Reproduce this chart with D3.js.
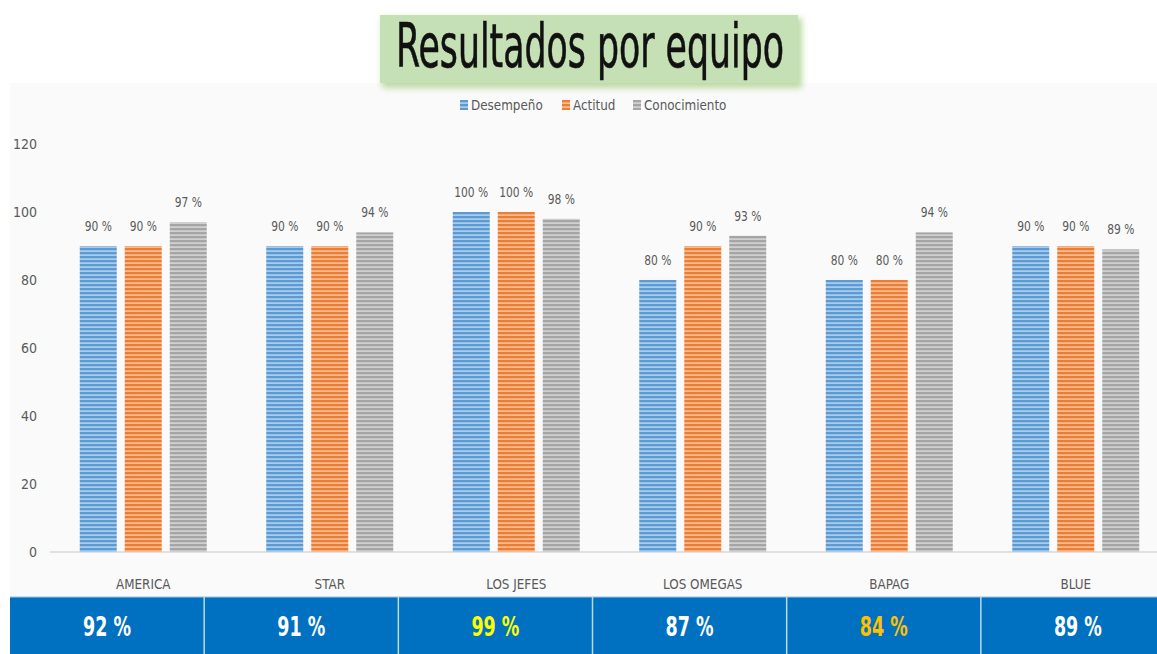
<!DOCTYPE html>
<html>
<head>
<meta charset="utf-8">
<script src="https://cdn.jsdelivr.net/npm/d3@7"></script>
<style>
  body { margin: 0; background: #ffffff; }
  svg { display: block; }
</style>
</head>
<body>
<svg id="chart" width="1157" height="654"></svg>
<script>
const categories = ['AMERICA', 'STAR', 'LOS JEFES', 'LOS OMEGAS', 'BAPAG', 'BLUE'];
const seriesNames = ['Desempeño', 'Actitud', 'Conocimiento'];
const desempeno = [90, 90, 100, 80, 80, 90];
const actitud = [90, 90, 100, 90, 80, 90];
const conocimiento = [97, 94, 98, 93, 94, 89];
const totals = [92, 91, 99, 87, 84, 89];
const yTicks = [0, 20, 40, 60, 80, 100, 120];

const COLORS = {
    series: ['#5b9bd5', '#ed7d31', '#a5a5a5'],
    stripe: ['#bdd7ee', '#f8cbad', '#dbdbdb'],
    text: '#595959',
    axis: '#d9d9d9',
    plotBg: '#fafafa',
    band: '#0070c0',
    titleBox: '#c5e0b4'
};
const totalColors = ['#ffffff', '#ffffff', '#ffff00', '#ffffff', '#ffc000', '#ffffff'];
const FONT = '"Liberation Sans Narrow", "DejaVu Sans Condensed", "Open Sans", sans-serif';

const seriesValues = [desempeno, actitud, conocimiento];
const rows = categories.map((c, i) => ({
    category: c,
    values: seriesNames.map((s, k) => ({ series: s, k: k, value: seriesValues[k][i] }))
}));

// squeeze text horizontally, the original uses a narrow font
function squeeze(sel, f) {
    sel.each(function () {
        const w = this.getComputedTextLength();
        d3.select(this).attr('textLength', w * f).attr('lengthAdjust', 'spacingAndGlyphs');
    });
}

const svg = d3.select('#chart');
const defs = svg.append('defs');

// striped fills like the excel pattern
seriesNames.forEach((s, k) => {
    const p = defs.append('pattern')
        .attr('id', 'stripe' + k)
        .attr('patternUnits', 'userSpaceOnUse')
        .attr('width', 8).attr('height', 4);
    p.append('rect').attr('width', 8).attr('height', 4).attr('fill', COLORS.series[k]);
    p.append('rect').attr('y', 2.4).attr('width', 8).attr('height', 1.4).attr('fill', COLORS.stripe[k]);
});

const glow = defs.append('filter').attr('id', 'glow')
    .attr('x', '-10%').attr('y', '-20%').attr('width', '120%').attr('height', '150%');
glow.append('feGaussianBlur').attr('stdDeviation', 3);

// plot background
svg.append('rect')
    .attr('x', 10).attr('y', 83).attr('width', 1147).attr('height', 514)
    .attr('fill', COLORS.plotBg);

// title box
svg.append('rect')
    .attr('x', 382).attr('y', 18).attr('width', 420).attr('height', 70)
    .attr('fill', '#a9d18e').attr('opacity', 0.8)
    .attr('filter', 'url(#glow)');
svg.append('rect')
    .attr('x', 380).attr('y', 15).attr('width', 418).attr('height', 68)
    .attr('fill', COLORS.titleBox);
svg.append('text')
    .attr('x', 590).attr('y', 67)
    .attr('text-anchor', 'middle')
    .attr('font-family', FONT)
    .attr('font-size', 60)
    .attr('fill', '#111111')
    .attr('stroke', '#111111').attr('stroke-width', 0.6)
    .attr('textLength', 388)
    .attr('lengthAdjust', 'spacingAndGlyphs')
    .text('Resultados por equipo');

// scales
const x0 = d3.scaleBand().domain(categories).range([50, 1169]);
const x1 = d3.scaleBand().domain(seriesNames).range([0, 127]).paddingInner(8 / 45);
const y = d3.scaleLinear().domain([0, 120]).range([552, 144]);

// y axis
const yAxis = svg.append('g')
    .attr('transform', 'translate(50,0)')
    .call(d3.axisLeft(y).tickValues(yTicks).tickSize(0).tickPadding(13));
yAxis.select('.domain').remove();
yAxis.selectAll('text')
    .attr('font-family', FONT).attr('font-size', 14).attr('fill', COLORS.text);

// baseline
svg.append('line')
    .attr('x1', 50).attr('x2', 1157)
    .attr('y1', y(0)).attr('y2', y(0))
    .attr('stroke', COLORS.axis).attr('stroke-width', 1.5);

// x axis labels
const xAxis = svg.append('g')
    .attr('transform', 'translate(0,' + y(0) + ')')
    .call(d3.axisBottom(x0).tickSize(0).tickPadding(27));
xAxis.select('.domain').remove();
xAxis.selectAll('text')
    .attr('font-family', FONT).attr('font-size', 14).attr('fill', COLORS.text)
    .call(squeeze, 0.95);

// bars
const groups = svg.append('g').selectAll('g')
    .data(rows)
    .join('g')
    .attr('transform', d => 'translate(' + (x0(d.category) + (x0.bandwidth() - 127) / 2) + ',0)');

groups.selectAll('rect')
    .data(d => d.values)
    .join('rect')
    .attr('x', d => x1(d.series))
    .attr('y', d => y(d.value))
    .attr('width', x1.bandwidth())
    .attr('height', d => y(0) - y(d.value))
    .attr('fill', d => 'url(#stripe' + d.k + ')');

groups.selectAll('text')
    .data(d => d.values)
    .join('text')
    .attr('x', d => x1(d.series) + x1.bandwidth() / 2)
    .attr('y', d => y(d.value) - 15)
    .attr('text-anchor', 'middle')
    .attr('font-family', FONT)
    .attr('font-size', 14)
    .attr('fill', COLORS.text)
    .text(d => d.value + ' %')
    .call(squeeze, 0.85);

// legend
const legendItems = [
    { name: seriesNames[0], x: 460 },
    { name: seriesNames[1], x: 562 },
    { name: seriesNames[2], x: 633 }
];
const legend = svg.append('g').selectAll('g')
    .data(legendItems)
    .join('g')
    .attr('transform', d => 'translate(' + d.x + ',100)');
legend.append('rect')
    .attr('width', 8).attr('height', 10)
    .attr('fill', (d, i) => 'url(#stripe' + i + ')');
legend.append('text')
    .attr('x', 11).attr('y', 10)
    .attr('font-family', FONT).attr('font-size', 14)
    .attr('fill', COLORS.text)
    .text(d => d.name)
    .call(squeeze, 0.95);

// totals band
const xt = d3.scaleBand().domain(categories).range([10, 1175]);
svg.append('rect')
    .attr('x', 10).attr('y', 597).attr('width', 1147).attr('height', 57)
    .attr('fill', COLORS.band);
svg.append('line')
    .attr('x1', 10).attr('x2', 1157).attr('y1', 597).attr('y2', 597)
    .attr('stroke', '#9dc3e6').attr('stroke-width', 1);
svg.append('g').selectAll('line')
    .data(categories.slice(1))
    .join('line')
    .attr('x1', d => xt(d)).attr('x2', d => xt(d))
    .attr('y1', 597).attr('y2', 654)
    .attr('stroke', '#bdd7ee').attr('stroke-width', 1.5);
svg.append('g').selectAll('text')
    .data(categories)
    .join('text')
    .attr('x', d => xt(d) + xt.bandwidth() / 2)
    .attr('y', 636)
    .attr('text-anchor', 'middle')
    .attr('font-family', FONT)
    .attr('font-size', 27)
    .attr('font-weight', 'bold')
    .attr('fill', (d, i) => totalColors[i])
    .text((d, i) => totals[i] + ' %')
    .call(squeeze, 0.72);
</script>
</body>
</html>
